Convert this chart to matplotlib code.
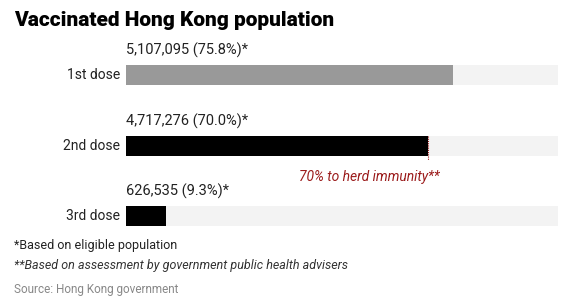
import matplotlib
matplotlib.use("Agg")
import matplotlib.pyplot as plt
import numpy as np

doses = ["1st dose", "2nd dose", "3rd dose"]
counts = [5107095, 4717276, 626535]
percents = [75.8, 70.0, 9.3]
bar_colors = ["#999999", "#000000", "#000000"]
herd_target = 70.0

plt.rcParams["font.family"] = ["Roboto", "DejaVu Sans"]

W, H = 571, 303
fig = plt.figure(figsize=(W / 100, H / 100), dpi=100)

# axis area: x 0..100 maps to px 126..558, rows spaced ~70.5px
row_px = 70.5
top_px = 75 - row_px / 2
ax = fig.add_axes([126 / W, 1 - (top_px + 3 * row_px) / H, 432 / W, 3 * row_px / H])
ax.set_xlim(0, 100)
ax.set_ylim(2.5, -0.5)
ax.axis("off")

y = np.arange(len(doses))
bh = 20 / row_px
ax.barh(y, [100] * len(doses), height=bh, color="#f3f3f3", zorder=1)
ax.barh(y, percents, height=bh, color=bar_colors, zorder=2)

for i, (d, c, p) in enumerate(zip(doses, counts, percents)):
    ax.annotate(d, (0, i), xytext=(-4, 0), textcoords="offset points",
                ha="right", va="center", fontsize=10, color="#222222")
    ax.annotate(f"{c:,} ({p:.1f}%)*", (0, i - bh / 2), xytext=(0, 5),
                textcoords="offset points", ha="left", va="bottom",
                fontsize=10.5, color="#222222")

# herd immunity marker
ax.plot([herd_target, herd_target], [1 - bh / 2, 1 + bh / 2 + 0.07], color="#9b1b1b",
        linestyle=(0, (1, 1)), linewidth=0.8, zorder=3)
ax.annotate("70% to herd immunity**", (herd_target, 1 + 0.45), xytext=(8, 0),
            textcoords="offset points", ha="right", va="center", fontsize=10,
            style="italic", color="#9b1b1b")

fig.text(14 / W, 1 - 20 / H, "Vaccinated Hong Kong population", fontsize=15,
         fontweight="black", ha="left", va="center", color="#000000")
fig.text(14 / W, 1 - 246 / H, "*Based on eligible population", fontsize=9,
         ha="left", va="center", color="#222222")
fig.text(14 / W, 1 - 265 / H, "**Based on assessment by government public health advisers",
         fontsize=9, style="italic", ha="left", va="center", color="#333333")
fig.text(14 / W, 1 - 289 / H, "Source: Hong Kong government", fontsize=8.5,
         ha="left", va="center", color="#888888")

fig.savefig("out.png", dpi=100)
